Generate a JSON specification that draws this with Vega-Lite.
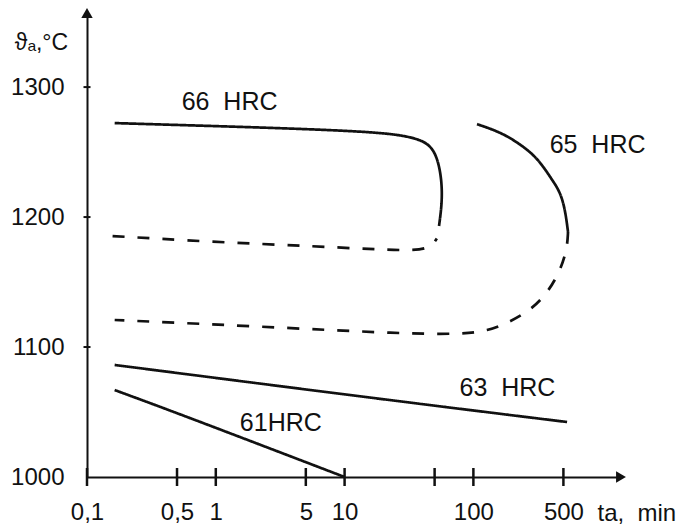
{
  "$schema": "https://vega.github.io/schema/vega-lite/v6.json",
  "width": 534,
  "height": 464,
  "autosize": {"type": "none"},
  "padding": {"left": 87, "top": 13, "right": 65, "bottom": 49},
  "background": "white",
  "config": {"view": {"stroke": null}, "font": "Liberation Sans"},
  "datasets": {
    "curves": [
      {"curve": "66 HRC", "kind": "measured", "i": 1, "x": 0.164, "y": 1272.3},
      {"curve": "66 HRC", "kind": "measured", "i": 2, "x": 0.525, "y": 1270.8},
      {"curve": "66 HRC", "kind": "measured", "i": 3, "x": 3.14, "y": 1268.5},
      {"curve": "66 HRC", "kind": "measured", "i": 4, "x": 18.8, "y": 1265.4},
      {"curve": "66 HRC", "kind": "measured", "i": 5, "x": 33.9, "y": 1261.5},
      {"curve": "66 HRC", "kind": "measured", "i": 6, "x": 46.1, "y": 1256.2},
      {"curve": "66 HRC", "kind": "measured", "i": 7, "x": 53.1, "y": 1244.6},
      {"curve": "66 HRC", "kind": "measured", "i": 8, "x": 57.0, "y": 1226.9},
      {"curve": "66 HRC", "kind": "measured", "i": 9, "x": 57.0, "y": 1210.0},
      {"curve": "66 HRC", "kind": "measured", "i": 10, "x": 54.1, "y": 1193.1},
      {"curve": "66 HRC", "kind": "estimated", "i": 1, "x": 0.158, "y": 1185.4},
      {"curve": "66 HRC", "kind": "estimated", "i": 2, "x": 0.948, "y": 1180.8},
      {"curve": "66 HRC", "kind": "estimated", "i": 3, "x": 5.67, "y": 1177.7},
      {"curve": "66 HRC", "kind": "estimated", "i": 4, "x": 29.4, "y": 1173.8},
      {"curve": "66 HRC", "kind": "estimated", "i": 5, "x": 46.1, "y": 1175.5},
      {"curve": "66 HRC", "kind": "estimated", "i": 6, "x": 52.0, "y": 1183.5},
      {"curve": "65 HRC", "kind": "measured", "i": 1, "x": 106.7, "y": 1271.5},
      {"curve": "65 HRC", "kind": "measured", "i": 2, "x": 161, "y": 1265.4},
      {"curve": "65 HRC", "kind": "measured", "i": 3, "x": 218, "y": 1257.7},
      {"curve": "65 HRC", "kind": "measured", "i": 4, "x": 290, "y": 1248.5},
      {"curve": "65 HRC", "kind": "measured", "i": 5, "x": 347, "y": 1239.2},
      {"curve": "65 HRC", "kind": "measured", "i": 6, "x": 415, "y": 1227.7},
      {"curve": "65 HRC", "kind": "measured", "i": 7, "x": 471, "y": 1219.2},
      {"curve": "65 HRC", "kind": "measured", "i": 8, "x": 515, "y": 1206.2},
      {"curve": "65 HRC", "kind": "measured", "i": 9, "x": 543, "y": 1188.5},
      {"curve": "65 HRC", "kind": "estimated", "i": 1, "x": 543, "y": 1188.5},
      {"curve": "65 HRC", "kind": "estimated", "i": 2, "x": 534, "y": 1175.4},
      {"curve": "65 HRC", "kind": "estimated", "i": 3, "x": 471, "y": 1158.5},
      {"curve": "65 HRC", "kind": "estimated", "i": 4, "x": 380, "y": 1142.3},
      {"curve": "65 HRC", "kind": "estimated", "i": 5, "x": 285, "y": 1129.2},
      {"curve": "65 HRC", "kind": "estimated", "i": 6, "x": 192, "y": 1119.2},
      {"curve": "65 HRC", "kind": "estimated", "i": 7, "x": 128, "y": 1112.3},
      {"curve": "65 HRC", "kind": "estimated", "i": 8, "x": 83, "y": 1110.0},
      {"curve": "65 HRC", "kind": "estimated", "i": 9, "x": 30.5, "y": 1110.0},
      {"curve": "65 HRC", "kind": "estimated", "i": 10, "x": 1.84, "y": 1116.2},
      {"curve": "65 HRC", "kind": "estimated", "i": 11, "x": 0.164, "y": 1120.8},
      {"curve": "63 HRC", "kind": "measured", "i": 1, "x": 0.164, "y": 1086.2},
      {"curve": "63 HRC", "kind": "measured", "i": 2, "x": 18.8, "y": 1060.0},
      {"curve": "63 HRC", "kind": "measured", "i": 3, "x": 534, "y": 1042.3},
      {"curve": "61 HRC", "kind": "measured", "i": 1, "x": 0.164, "y": 1066.9},
      {"curve": "61 HRC", "kind": "measured", "i": 2, "x": 0.525, "y": 1048.5},
      {"curve": "61 HRC", "kind": "measured", "i": 3, "x": 10, "y": 1000.0}
    ],
    "labels": [
      {"label": "66\u00a0 HRC", "x": 1.28, "y": 1288.8},
      {"label": "65\u00a0 HRC", "x": 921, "y": 1255.4},
      {"label": "63\u00a0 HRC", "x": 184, "y": 1068.8},
      {"label": "61HRC", "x": 3.2, "y": 1041.5}
    ],
    "xticks": [
      {"x": 0.1, "y": 1000}, {"x": 0.5, "y": 1000}, {"x": 1, "y": 1000},
      {"x": 5, "y": 1000}, {"x": 10, "y": 1000}, {"x": 50, "y": 1000},
      {"x": 100, "y": 1000}, {"x": 500, "y": 1000}
    ],
    "yticks": [
      {"x": 0.1, "y": 1100}, {"x": 0.1, "y": 1200}, {"x": 0.1, "y": 1300}
    ],
    "arrows": [
      {"axis": "x", "x": 1400, "y": 1000},
      {"axis": "y", "x": 0.1, "y": 1357}
    ]
  },
  "encoding": {
    "x": {
      "field": "x",
      "type": "quantitative",
      "scale": {"type": "log", "domain": [0.1, 1400], "nice": false, "zero": false},
      "axis": {
        "values": [0.1, 0.5, 1, 5, 10, 100, 500],
        "labelExpr": "replace(toString(datum.value), '.', ',')",
        "ticks": false,
        "grid": false,
        "domainColor": "#111",
        "domainWidth": 2,
        "labelFont": "Liberation Sans",
        "labelFontSize": 24,
        "labelColor": "#111",
        "labelPadding": 23,
        "labelFlush": false,
        "labelOverlap": false,
        "labelBound": false,
        "title": "ta,\u00a0 min",
        "titleFont": "Liberation Sans",
        "titleFontSize": 24,
        "titleFontWeight": "normal",
        "titleColor": "#111",
        "titleX": 510,
        "titleY": 43,
        "titleAlign": "left",
        "titleBaseline": "alphabetic"
      }
    },
    "y": {
      "field": "y",
      "type": "quantitative",
      "scale": {"domain": [1000, 1357], "nice": false, "zero": false},
      "axis": {
        "values": [1000, 1100, 1200, 1300],
        "format": "d",
        "ticks": false,
        "grid": false,
        "domainColor": "#111",
        "domainWidth": 2,
        "labelFont": "Liberation Sans",
        "labelFontSize": 24,
        "labelColor": "#111",
        "labelPadding": 23,
        "labelFlush": false,
        "labelOverlap": false,
        "labelBound": false,
        "title": "ϑₐ,°C",
        "titleFont": "Liberation Sans",
        "titleFontSize": 23,
        "titleFontWeight": "normal",
        "titleColor": "#111",
        "titleAngle": 0,
        "titleX": -46,
        "titleY": 29,
        "titleAlign": "center",
        "titleBaseline": "middle"
      }
    }
  },
  "layer": [
    {
      "data": {"name": "curves"},
      "mark": {"type": "line", "stroke": "#111", "strokeWidth": 2.7, "interpolate": "basis", "strokeCap": "butt"},
      "encoding": {
        "detail": {"field": "curve", "type": "nominal"},
        "strokeDash": {
          "field": "kind",
          "type": "nominal",
          "scale": {"domain": ["measured", "estimated"], "range": [[1, 0], [12, 13]]},
          "legend": null
        },
        "order": {"field": "i", "type": "quantitative"}
      }
    },
    {
      "data": {"name": "xticks"},
      "mark": {"type": "tick", "orient": "vertical", "size": 18, "thickness": 2.5, "color": "#111", "opacity": 1}
    },
    {
      "data": {"name": "yticks"},
      "mark": {"type": "tick", "orient": "horizontal", "size": 7, "thickness": 2, "color": "#111", "opacity": 1}
    },
    {
      "data": {"name": "arrows"},
      "mark": {"type": "point", "filled": true, "size": 130, "color": "#111", "opacity": 1},
      "encoding": {
        "shape": {
          "field": "axis",
          "type": "nominal",
          "scale": {"domain": ["x", "y"], "range": ["triangle-right", "triangle-up"]},
          "legend": null
        }
      }
    },
    {
      "data": {"name": "labels"},
      "mark": {"type": "text", "font": "Liberation Sans", "fontSize": 25, "color": "#111", "align": "center", "baseline": "middle"},
      "encoding": {"text": {"field": "label", "type": "nominal"}}
    }
  ]
}
